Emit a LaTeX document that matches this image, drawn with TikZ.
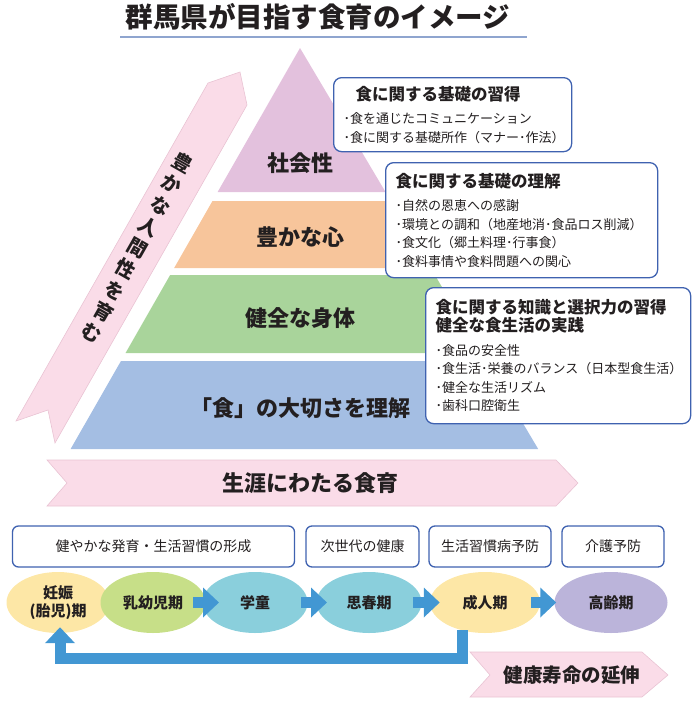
\documentclass[tikz,border=0pt]{standalone}
\usepackage{fontspec}
\setmainfont{Noto Sans CJK JP}
\usetikzlibrary{shapes.geometric,arrows.meta,calc}

\definecolor{inktext}{HTML}{231F20}
\definecolor{pyrA}{HTML}{E3C1DD}
\definecolor{pyrB}{HTML}{F7C59B}
\definecolor{pyrC}{HTML}{A9D49B}
\definecolor{pyrD}{HTML}{A4BEE3}
\definecolor{bandpink}{HTML}{FADCE8}
\definecolor{bandedge}{HTML}{E9C3D3}
\definecolor{boxline}{HTML}{3F62B0}
\definecolor{flowblue}{HTML}{4297D3}
\definecolor{stYellow}{HTML}{FDE7A6}
\definecolor{stGreen}{HTML}{C7DF88}
\definecolor{stTeal}{HTML}{8ACFDC}
\definecolor{stLav}{HTML}{BBB4DA}
\definecolor{ruleblue}{HTML}{8FA5CF}

\newcommand{\boxhead}{\bfseries\fontsize{16.5}{20}\selectfont}

\tikzset{
  layerlabel/.style={font=\bfseries\fontsize{22}{24}\selectfont, text=inktext},
  infobox/.style={draw=boxline, line width=1.3pt, rounded corners=8pt, fill=white,
    align=left, anchor=north west, inner xsep=10pt, inner ysep=0pt,
    font=\fontsize{13}{18.5}\selectfont, text=inktext},
  band/.style={fill=bandpink, draw=bandedge, line width=0.6pt},
  bandlabel/.style={font=\bfseries\fontsize{22}{24}\selectfont, text=inktext},
  vchar/.style={rotate=-29.6, inner sep=0pt, text=inktext, font=\bfseries\fontsize{19.5}{20}\selectfont},
  phasebox/.style={draw=boxline, line width=1.3pt, rounded corners=6pt, fill=white,
    minimum height=41pt, inner sep=0pt, font=\fontsize{14}{16}\selectfont, text=inktext},
  stage/.style={ellipse, minimum width=105pt, minimum height=61pt, inner sep=0pt,
    align=center, font=\bfseries\fontsize{15}{18}\selectfont, text=inktext},
  stagearrow/.style={draw=flowblue, line width=11pt, line join=miter,
    -{Triangle[width=29pt,length=16pt]}},
}

\begin{document}
\begin{tikzpicture}[x=1pt,y=-1pt]
  \useasboundingbox (0,0) rectangle (700,707);

  % title
  \node[font=\bfseries\fontsize{27.5}{30}\selectfont, text=inktext] (title) at (318,17) {群馬県が目指す食育のイメージ};
  \draw[ruleblue, line width=1.5pt] (120,37) -- (527,37);

  % pink band on the left
  \filldraw[band] (55,443) -- (247,105) -- (240,72) -- (208,83) -- (16,421) -- (48,410) -- cycle;
  \foreach \c [count=\i from 0] in {豊,か,な,人,間,性,を,育,む} {
    \node[vchar] (v\i) at ({183-11.375*\i},{163+21.25*\i}) {\c};
  }

  % pyramid
  \foreach \ytop/\ybot/\col/\ylab/\name/\txt in {
      48/192/pyrA/163/shakai/社会性,
      201/268/pyrB/237/kokoro/豊かな心,
      275/353/pyrC/318/shintai/健全な身体,
      361/449/pyrD/408/rikai/「食」の大切さを理解} {
    \pgfmathsetmacro\xa{300-0.572*(\ytop-48)}
    \pgfmathsetmacro\xb{300+0.594*(\ytop-48)}
    \pgfmathsetmacro\xc{300-0.572*(\ybot-48)}
    \pgfmathsetmacro\xd{300+0.594*(\ybot-48)}
    \fill[\col] (\xa,\ytop) -- (\xb,\ytop) -- (\xd,\ybot) -- (\xc,\ybot) -- cycle;
    \node[layerlabel] (\name) at (300,\ylab) {\txt};
  }

  % text boxes
  \node[infobox, text width=218pt, minimum height=74pt] (shutoku) at (333,77)
    {\hspace*{12pt}{\boxhead 食に関する基礎の習得}\\[5pt]
     ･食を通じたコミュニケーション\\
     ･食に関する基礎所作（マナー･作法）};
  \node[infobox, text width=252pt, minimum height=115pt] (kiso) at (385,162)
    {{\boxhead 食に関する基礎の理解}\\[5pt]
     ･自然の恩恵への感謝\\
     ･環境との調和（地産地消･食品ロス削減）\\
     ･食文化（郷土料理･行事食）\\
     ･食料事情や食料問題への関心};
  \node[infobox, text width=245pt, minimum height=136pt] (chishiki) at (425,287)
    {{\boxhead 食に関する知識と選択力の習得\\健全な食生活の実践}\\[5pt]
     ･食品の安全性\\
     ･食生活･栄養のバランス（日本型食生活）\\
     ･健全な生活リズム\\
     ･歯科口腔衛生};

  % lifelong band
  \filldraw[band] (47,460) -- (556,460) -- (578,483) -- (556,506) -- (47,506) -- (67,483) -- cycle;
  \node[bandlabel] (shogai) at (310,483) {生涯にわたる食育};

  % phase boxes
  \node[phasebox, minimum width=282pt] (p1) at (153.5,546.5) {健やかな発育・生活習慣の形成};
  \node[phasebox, minimum width=113pt] (p2) at (362.5,546.5) {次世代の健康};
  \node[phasebox, minimum width=122pt] (p3) at (490,546.5) {生活習慣病予防};
  \node[phasebox, minimum width=102pt] (p4) at (613,546.5) {介護予防};

  % life stages
  \node[stage, fill=stYellow, minimum width=103pt] (e1) at (58,602.5) {妊娠\\(胎児)期};
  \node[stage, fill=stGreen] (e2) at (153,602.5) {乳幼児期};
  \node[stage, fill=stTeal] (e3) at (255,602.5) {学童};
  \node[stage, fill=stTeal] (e4) at (369,602.5) {思春期};
  \node[stage, fill=stYellow, minimum width=110pt] (e5) at (485,602.5) {成人期};
  \node[stage, fill=stLav, minimum width=113pt] (e6) at (611,602.5) {高齢期};

  \draw[stagearrow] ($(e2.east)!.5!(e3.west)+(-11,0)$) -- ++(26,0);
  \draw[stagearrow] ($(e3.east)!.5!(e4.west)+(-11,0)$) -- ++(26,0);
  \draw[stagearrow] ($(e4.east)!.5!(e5.west)+(-13,0)$) -- ++(27,0);
  \draw[stagearrow] ($(e5.east)!.5!(e6.west)+(-16,0)$) -- ++(25,0);

  % back to the start
  \draw[stagearrow] ([xshift=-23pt,yshift=3pt]e5.south) |- ([xshift=2pt,yshift=-25pt]e1.south)
    -- ([xshift=2pt,yshift=6pt]e1.south);

  % healthy life expectancy
  \filldraw[band] (470,652) -- (642,652) -- (668,675) -- (642,697) -- (470,697) -- (490,675) -- cycle;
  \node[bandlabel, font=\bfseries\fontsize{19.5}{22}\selectfont] (jumyo) at (572,675) {健康寿命の延伸};
\end{tikzpicture}
\end{document}
